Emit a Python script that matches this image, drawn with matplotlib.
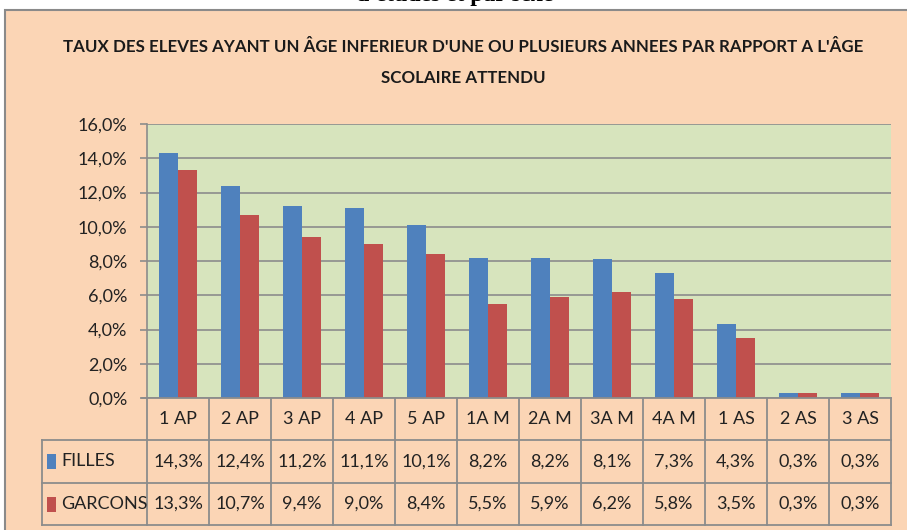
import matplotlib
matplotlib.use("Agg")
import matplotlib.pyplot as plt
from matplotlib.patches import Rectangle

plt.rcParams["font.family"] = ["Lato", "DejaVu Sans"]

categories = ["1 AP", "2 AP", "3 AP", "4 AP", "5 AP", "1A M", "2A M", "3A M", "4A M", "1 AS", "2 AS", "3 AS"]
filles = [14.3, 12.4, 11.2, 11.1, 10.1, 8.2, 8.2, 8.1, 7.3, 4.3, 0.3, 0.3]
garcons = [13.3, 10.7, 9.4, 9.0, 8.4, 5.5, 5.9, 6.2, 5.8, 3.5, 0.3, 0.3]
series = [("FILLES", filles), ("GARCONS", garcons)]
yticks = [0, 2, 4, 6, 8, 10, 12, 14, 16]

BLUE, RED = "#4F81BD", "#C0504D"
PEACH, GREEN, GRID = "#FBD5B5", "#D7E4BD", "#8C8C8C"
W, H = 907, 530
FS = 13

fig = plt.figure(figsize=(W / 100, H / 100), dpi=100)
fig.patch.set_facecolor("white")

# overlay in pixel coords for frame, title and table
ov = fig.add_axes([0, 0, 1, 1], zorder=0)
ov.set_xlim(0, W); ov.set_ylim(H, 0); ov.axis("off")
ov.add_patch(Rectangle((5, 10), W, H, facecolor=PEACH, edgecolor="#8A8A8A", lw=1.5))
ov.text(455, 6, "d'études et par sexe", ha="center", va="bottom", fontsize=17,
        fontweight="bold", family=["Liberation Serif", "DejaVu Serif"], clip_on=False)
ov.text(463, 47, "TAUX DES ELEVES AYANT UN ÂGE INFERIEUR D'UNE OU PLUSIEURS ANNEES PAR RAPPORT A L'ÂGE",
        ha="center", va="center", fontsize=12.2, fontweight="bold", color="#1a1a1a")
ov.text(463, 78, "SCOLAIRE ATTENDU", ha="center", va="center", fontsize=12.2,
        fontweight="bold", color="#1a1a1a")

# plot area
x0, x1, ytop, ybot = 147, 891, 124, 398
ax = fig.add_axes([x0 / W, 1 - ybot / H, (x1 - x0) / W, (ybot - ytop) / H], zorder=1)
ax.set_facecolor(GREEN)
n = len(categories)
xs = list(range(n))
bw = 0.3
ax.bar([x - 0.15 for x in xs], filles, width=bw, color=BLUE, zorder=3)
ax.bar([x + 0.15 for x in xs], garcons, width=bw, color=RED, zorder=3)
ax.set_xlim(-0.5, n - 0.5)
ax.set_ylim(0, 16)
ax.set_yticks(yticks)
ax.set_yticklabels([f"{v:.1f}%".replace(".", ",") for v in yticks], fontsize=FS, color="#222")
ax.set_xticks([])
ax.grid(axis="y", color=GRID, lw=1.2, zorder=0)
for s in ["top", "right", "bottom"]:
    ax.spines[s].set_visible(False)
ax.spines["left"].set_color(GRID); ax.spines["left"].set_linewidth(1.2)
ax.tick_params(axis="y", length=5, color=GRID, width=1.2, pad=9)

# data table under the axis
cw = (x1 - x0) / n
rows = [398, 440, 483, 525]
lc = dict(color="#8C8C8C", lw=1.3)
ov2 = fig.add_axes([0, 0, 1, 1], zorder=2)
ov2.set_xlim(0, W); ov2.set_ylim(H, 0); ov2.axis("off")
ov2.plot([142, x1], [398, 398], **lc)
for y in rows[1:]:
    ov2.plot([42, x1], [y, y], **lc)
ov2.plot([42, 42], [440, 525], **lc)
for i in range(n + 1):
    ov2.plot([x0 + i * cw] * 2, [398, 525], **lc)
for i, c in enumerate(categories):
    ov2.text(x0 + (i + 0.5) * cw, 419, c, ha="center", va="center", fontsize=FS, color="#222")
for r, ((name, vals), col) in enumerate(zip(series, [BLUE, RED])):
    yc = (rows[r + 1] + rows[r + 2]) / 2
    ov2.add_patch(Rectangle((47, yc - 7.5), 9, 15, facecolor=col, edgecolor="none"))
    ov2.text(61, yc, name, ha="left", va="center", fontsize=FS, color="#222")
    for i, v in enumerate(vals):
        ov2.text(x0 + (i + 0.5) * cw, yc, f"{v:.1f}%".replace(".", ","), ha="center",
                 va="center", fontsize=FS, color="#222")

fig.savefig("out.png", dpi=100)
